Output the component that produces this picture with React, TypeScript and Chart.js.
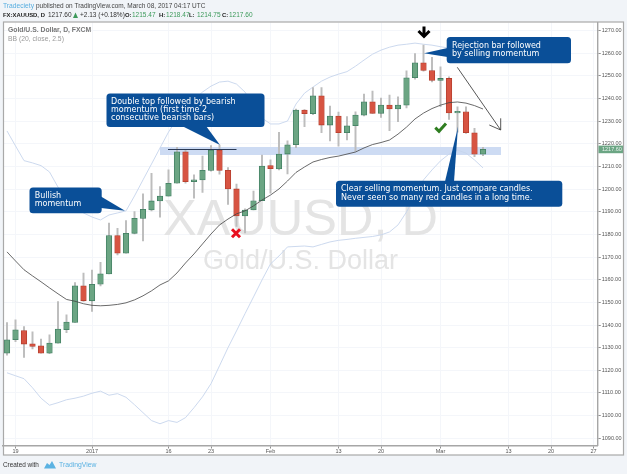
import React, { useEffect, useRef } from "react";
import { Chart, registerables } from "chart.js";

Chart.register(...registerables);

const tickLabels: Record<number, string> = {
  1: "19", 10: "2017", 19: "16", 24: "23", 31: "Feb", 39: "13", 44: "20", 51: "Mar", 59: "13", 64: "20", 69: "27",
};
const categories = Array.from({ length: 70 }, (_, i) => String(i));

const opens = [1127.6,1133.5,1137.6,1131.7,1130.8,1127.6,1132.0,1137.9,1141.1,1157.3,1150.7,1158.0,1162.6,1179.5,1171.7,1180.5,1187.1,1190.8,1194.8,1196.9,1202.6,1216.5,1203.3,1204.1,1208.3,1217.3,1208.3,1200.1,1188.2,1190.8,1194.9,1210.4,1208.9,1215.5,1219.6,1234.9,1233.3,1241.2,1228.3,1232.3,1224.9,1228.0,1232.7,1238.6,1233.5,1237.1,1235.4,1237.1,1249.2,1255.8,1252.4,1248.0,1248.9,1233.7,1234.2,1224.9,1215.47];
const closes = [1133.5,1137.9,1131.6,1130.5,1127.6,1132.0,1138.2,1141.3,1157.3,1150.7,1158.0,1162.6,1179.5,1171.7,1180.5,1187.1,1191.1,1194.8,1197.0,1202.6,1216.5,1203.3,1204.1,1208.3,1217.3,1208.3,1200.1,1188.2,1190.8,1194.9,1210.2,1209.0,1215.5,1219.6,1234.9,1233.3,1241.2,1228.3,1232.3,1224.9,1228.0,1232.7,1238.6,1233.5,1237.1,1235.4,1237.1,1249.2,1255.8,1252.4,1248.0,1248.9,1233.7,1234.4,1224.9,1215.4,1217.6];
const highs = [1141.1,1142.3,1139.3,1137.0,1133.8,1135.7,1150.4,1144.5,1158.8,1162.9,1164.3,1167.7,1185.0,1182.7,1186.1,1190.1,1197.9,1207.0,1201.1,1208.5,1218.5,1217.3,1206.3,1214.6,1219.2,1219.5,1209.5,1202.3,1191.3,1199.2,1215.1,1212.9,1225.1,1221.3,1235.4,1235.2,1244.9,1244.9,1236.7,1234.0,1232.0,1234.2,1242.0,1243.3,1240.2,1241.5,1240.8,1252.3,1259.9,1263.6,1258.2,1254.0,1249.6,1236.4,1236.4,1226.9,1218.47];
const lows = [1126.7,1132.7,1125.7,1129.5,1127.6,1127.3,1132.0,1136.6,1141.1,1150.4,1146.0,1157.3,1162.6,1171.0,1171.7,1180.2,1177.1,1190.4,1187.6,1196.9,1202.6,1202.6,1196.0,1198.6,1208.0,1206.6,1193.3,1183.5,1180.7,1190.8,1194.9,1198.2,1208.5,1206.7,1218.3,1227.6,1232.9,1224.9,1221.3,1219.0,1221.7,1216.8,1232.3,1233.5,1231.7,1225.8,1229.8,1235.9,1248.6,1252.1,1247.4,1236.4,1230.8,1225.2,1224.6,1214.3,1214.75];
const bbMiddle = [1172.3,1168.3,1164.4,1161.7,1159.1,1156.4,1153.8,1151.3,1150.5,1149.4,1148.7,1148.5,1148.7,1149.1,1149.8,1151.1,1152.9,1155.1,1157.7,1159.5,1163.0,1167.4,1171.4,1175.8,1180.2,1184.2,1186.8,1189.1,1190.4,1192.6,1195.2,1197.4,1200.1,1203.6,1207.4,1209.8,1212.0,1213.1,1214.0,1214.6,1215.5,1216.4,1218.2,1219.7,1220.6,1221.7,1224.3,1227.4,1231.0,1233.6,1235.6,1237.1,1238.2,1238.5,1238.0,1236.9,1235.4];
const bbUpper = [1225.7,1219.1,1212.6,1211.6,1210.4,1207.6,1200.9,1196.1,1192.1,1189.5,1187.7,1186.4,1188.6,1189.5,1190.4,1197.0,1204.1,1211.1,1218.2,1225.2,1231.0,1235.4,1239.3,1242.9,1245.5,1247.3,1247.7,1246.4,1242.9,1237.1,1231.4,1228.8,1228.8,1230.1,1237.6,1242.4,1245.1,1247.7,1249.5,1250.8,1251.9,1254.3,1257.0,1259.6,1261.4,1262.7,1263.6,1264.0,1264.5,1264.0,1263.6,1262.9,1262.3,1261.8,1261.4,1260.5,1259.6];
const bbLower = [1118.9,1117.6,1116.3,1112.3,1107.7,1104.6,1105.7,1107.0,1107.7,1108.6,1109.9,1110.8,1109.0,1109.7,1108.1,1104.8,1101.3,1097.8,1096.4,1097.8,1097.0,1099.1,1103.5,1108.3,1114.1,1122.0,1130.0,1137.4,1145.0,1152.4,1159.9,1167.0,1170.5,1174.5,1174.7,1174.9,1174.5,1175.6,1176.7,1177.4,1177.8,1178.3,1178.7,1179.1,1179.8,1181.1,1184.2,1189.9,1197.0,1204.1,1208.5,1212.5,1215.5,1217.3,1215.9,1212.9,1209.4];

const lastPrice = 1217.6;

const UP = "#6ba583";
const DOWN = "#d75442";
const UP_BORDER = "#3f7d60";
const DOWN_BORDER = "#b23c2c";
const BLUE = "#0a4f98";
const SANS = '"Liberation Sans", Arial, sans-serif';
const CALLOUT_FONT = '8px "DejaVu Sans", Verdana, sans-serif';

type Pt = [number, number];

function roundedBox(ctx: CanvasRenderingContext2D, x0: number, y0: number, x1: number, y1: number, tail: Pt[], lines: string[], tx: number, ty: number[]) {
  ctx.fillStyle = BLUE;
  ctx.beginPath();
  ctx.roundRect(x0, y0, x1 - x0, y1 - y0, 3.5);
  ctx.fill();
  ctx.beginPath();
  tail.forEach((p, i) => (i ? ctx.lineTo(p[0], p[1]) : ctx.moveTo(p[0], p[1])));
  ctx.closePath();
  ctx.fill();
  ctx.fillStyle = "#fff";
  ctx.font = CALLOUT_FONT;
  ctx.textAlign = "left";
  ctx.textBaseline = "middle";
  lines.forEach((t, i) => ctx.fillText(t, tx, ty[i]));
}

const text = (ctx: CanvasRenderingContext2D, s: string, x: number, y: number, font: string, color: string) => {
  ctx.font = font;
  ctx.fillStyle = color;
  ctx.textAlign = "left";
  ctx.textBaseline = "middle";
  ctx.fillText(s, x, y);
};

const backdrop = {
  id: "backdrop",
  beforeDraw(chart: any) {
    const ctx = chart.ctx as CanvasRenderingContext2D;
    ctx.save();
    ctx.fillStyle = "#f1f4f8";
    ctx.fillRect(0, 0, 627, 474);
    ctx.fillStyle = "#fff";
    ctx.fillRect(3.5, 22, 620, 433);

    // header
    const h = `6.5px ${SANS}`;
    const hb = `bold 5.9px ${SANS}`;
    const g = "#3d9a5b";
    text(ctx, "Tradeciety", 3, 5.8, `6.7px ${SANS}`, "#58aee0");
    text(ctx, "published on TradingView.com, March 08, 2017 04:17 UTC", 36, 5.8, `6.47px ${SANS}`, "#444");
    text(ctx, "FX:XAUUSD, D", 3, 15, hb, "#222");
    text(ctx, "1217.60", 48, 15, h, "#333");
    ctx.fillStyle = g;
    ctx.beginPath();
    ctx.moveTo(73, 18);
    ctx.lineTo(78, 18);
    ctx.lineTo(75.5, 12.5);
    ctx.closePath();
    ctx.fill();
    text(ctx, "+2.13 (+0.18%)", 80, 15, h, "#333");
    text(ctx, "O:", 125, 15, hb, "#222");
    text(ctx, "1215.47", 132, 15, h, g);
    text(ctx, "H:", 159, 15, hb, "#222");
    text(ctx, "1218.47", 166, 15, h, g);
    text(ctx, "L:", 189, 15, hb, "#222");
    text(ctx, "1214.75", 197, 15, h, g);
    text(ctx, "C:", 222, 15, hb, "#222");
    text(ctx, "1217.60", 229, 15, h, g);

    // footer
    text(ctx, "Created with", 3, 465, `6.4px ${SANS}`, "#333");
    ctx.fillStyle = "#5bb2e2";
    ctx.beginPath();
    ctx.moveTo(44, 468.5);
    ctx.lineTo(47, 463);
    ctx.lineTo(49.5, 465);
    ctx.lineTo(52, 461);
    ctx.lineTo(56, 468.5);
    ctx.closePath();
    ctx.fill();
    text(ctx, "TradingView", 59, 465, `6.8px ${SANS}`, "#5bb2e2");
    ctx.restore();
  },
  beforeDatasetsDraw(chart: any) {
    const ctx = chart.ctx as CanvasRenderingContext2D;
    ctx.save();
    ctx.textAlign = "left";
    ctx.textBaseline = "alphabetic";
    ctx.fillStyle = "#e4e4e4";
    ctx.font = `50.5px ${SANS}`;
    ctx.fillText("XAUUSD, D", 163, 235);
    ctx.font = `27px ${SANS}`;
    ctx.fillText("Gold/U.S. Dollar", 203, 269);
    text(ctx, "Gold/U.S. Dollar, D, FXCM", 8, 30.3, `bold 6.8px ${SANS}`, "#777");
    text(ctx, "BB (20, close, 2.5)", 8, 39, `6.8px ${SANS}`, "#999");
    ctx.fillStyle = "#cddbf3";
    ctx.fillRect(160, 147, 341, 8);
    ctx.restore();
  },
  afterDraw(chart: any) {
    const ctx = chart.ctx as CanvasRenderingContext2D;
    ctx.save();
    ctx.strokeStyle = "#a9a9a9";
    ctx.lineWidth = 1.2;
    ctx.strokeRect(3.5, 22, 620, 433);
    ctx.restore();
  },
};

const overlay = {
  id: "overlay",
  afterDatasetsDraw(chart: any) {
    const ctx = chart.ctx as CanvasRenderingContext2D;
    ctx.save();

    // double-top line
    ctx.strokeStyle = "#2b3a55";
    ctx.lineWidth = 1;
    ctx.beginPath();
    ctx.moveTo(168, 149.5);
    ctx.lineTo(236.5, 149.5);
    ctx.stroke();

    roundedBox(ctx, 106.5, 93.5, 264.5, 127, [[182, 126], [206, 126], [220, 145]],
      ["Double top followed by bearish", "momentum (first time 2", "consecutive bearish bars)"], 111, [101.7, 109.8, 117.8]);
    roundedBox(ctx, 29.5, 187.5, 101.7, 213.3, [[101, 196.5], [101, 208], [125, 210.7]],
      ["Bullish", "momentum"], 34.7, [196, 204]);
    roundedBox(ctx, 446.7, 37, 571, 63.3, [[447.5, 48], [447.5, 57], [424, 53.3]],
      ["Rejection bar followed", "by selling momentum"], 452, [46, 54]);
    roundedBox(ctx, 336, 180.7, 562.3, 206.7, [[445, 181.5], [454, 181.5], [458, 126.7]],
      ["Clear selling momentum. Just compare candles.", "Never seen so many red candles in a long time."], 341, [189.3, 197.7]);

    // thin arrow
    ctx.strokeStyle = "#444";
    ctx.lineWidth = 0.9;
    ctx.beginPath();
    ctx.moveTo(457.3, 67.3);
    ctx.lineTo(500.7, 130);
    ctx.moveTo(489.3, 125);
    ctx.lineTo(500.7, 130);
    ctx.lineTo(500.7, 118.3);
    ctx.stroke();

    // black down arrow
    ctx.strokeStyle = "#000";
    ctx.lineWidth = 3;
    ctx.beginPath();
    ctx.moveTo(424, 26.5);
    ctx.lineTo(424, 36);
    ctx.moveTo(418.5, 31);
    ctx.lineTo(424, 36.5);
    ctx.lineTo(429.5, 31);
    ctx.stroke();

    // red cross
    ctx.strokeStyle = "#e8101f";
    ctx.lineWidth = 3;
    ctx.beginPath();
    ctx.moveTo(232, 229.3);
    ctx.lineTo(240, 237.3);
    ctx.moveTo(240, 229.3);
    ctx.lineTo(232, 237.3);
    ctx.stroke();

    // green check
    ctx.strokeStyle = "#2e7d20";
    ctx.beginPath();
    ctx.moveTo(435.3, 127.7);
    ctx.lineTo(439, 131.3);
    ctx.lineTo(446, 123.5);
    ctx.stroke();

    // last price tag
    const y = chart.scales.y.getPixelForValue(lastPrice);
    ctx.fillStyle = UP;
    ctx.fillRect(598.5, y - 3.7, 25, 7.6);
    ctx.fillStyle = "#e9f3ee";
    ctx.font = `5.5px ${SANS}`;
    ctx.textAlign = "left";
    ctx.textBaseline = "middle";
    ctx.fillText(lastPrice.toFixed(2), 602, y + 0.3);
    ctx.restore();
  },
};

export default function App() {
  const ref = useRef<HTMLCanvasElement>(null);
  useEffect(() => {
    if (!ref.current) return;
    const isUp = opens.map((o, i) => closes[i] >= o);
    const chart = new Chart(ref.current, {
      type: "bar",
      data: {
        labels: categories,
        datasets: [
          {
            type: "line",
            label: "BB basis",
            data: bbMiddle,
            borderColor: "#444444",
            borderWidth: 0.8,
            pointRadius: 0,
            order: 1,
          },
          {
            type: "line",
            label: "BB upper",
            data: bbUpper,
            borderColor: "#c6d5ec",
            borderWidth: 0.9,
            pointRadius: 0,
            order: 4,
          },
          {
            type: "line",
            label: "BB lower",
            data: bbLower,
            borderColor: "#c6d5ec",
            borderWidth: 0.9,
            pointRadius: 0,
            order: 4,
          },
          {
            label: "Body",
            data: opens.map((o, i) => [o, closes[i]]),
            backgroundColor: isUp.map((u) => (u ? UP : DOWN)),
            borderColor: isUp.map((u) => (u ? UP_BORDER : DOWN_BORDER)),
            borderWidth: 0.8,
            borderSkipped: false,
            barThickness: 5.6,
            grouped: false,
            order: 2,
          },
          {
            label: "Wick",
            data: lows.map((l, i) => [l, highs[i]]),
            backgroundColor: "#bdbdbd",
            borderWidth: 0,
            barThickness: 1.3,
            grouped: false,
            order: 3,
          },
        ] as any,
      },
      options: {
        responsive: false,
        animation: false,
        devicePixelRatio: 1,
        layout: { padding: { left: 2.75, top: 22.5, right: 0, bottom: 0 } },
        plugins: { legend: { display: false }, tooltip: { enabled: false } },
        scales: {
          x: {
            type: "category",
            offset: true,
            grid: { offset: false, color: "#f4f6fa", tickColor: "#8f8f8f", tickLength: 3, lineWidth: 1 },
            border: { color: "#a6a6a6", width: 1.4 },
            ticks: {
              autoSkip: false,
              maxRotation: 0,
              padding: 0,
              color: "#555",
              font: { size: 5.5, family: "Liberation Sans" },
              callback: (v: any) => tickLabels[Number(v)] ?? "",
            },
            afterBuildTicks: (s: any) => {
              s.ticks = s.ticks.filter((t: any) => tickLabels[t.value] !== undefined);
            },
            afterFit: (s: any) => {
              s.height = 28.5;
            },
          },
          y: {
            type: "linear",
            position: "right",
            min: 1086.8,
            max: 1273.6,
            grid: { color: "#f4f6fa", tickColor: "#8f8f8f", tickLength: 3, lineWidth: 1 },
            border: { color: "#a6a6a6", width: 1.4 },
            ticks: {
              stepSize: 10,
              includeBounds: false,
              autoSkip: false,
              padding: 1,
              color: "#555",
              font: { size: 5.5, family: "Liberation Sans" },
              callback: (v: any) => Number(v).toFixed(2),
            },
            afterBuildTicks: (s: any) => {
              s.ticks = s.ticks.filter((t: any) => t.value >= 1090 && t.value <= 1270);
            },
            afterFit: (s: any) => {
              s.width = 29.25;
            },
          },
        },
      } as any,
      plugins: [backdrop, overlay],
    });
    return () => chart.destroy();
  }, []);
  return (
    <div style={{ position: "absolute", left: 0, top: 0, width: 627, height: 474 }}>
      <canvas ref={ref} width={627} height={474} style={{ display: "block" }} />
    </div>
  );
}
